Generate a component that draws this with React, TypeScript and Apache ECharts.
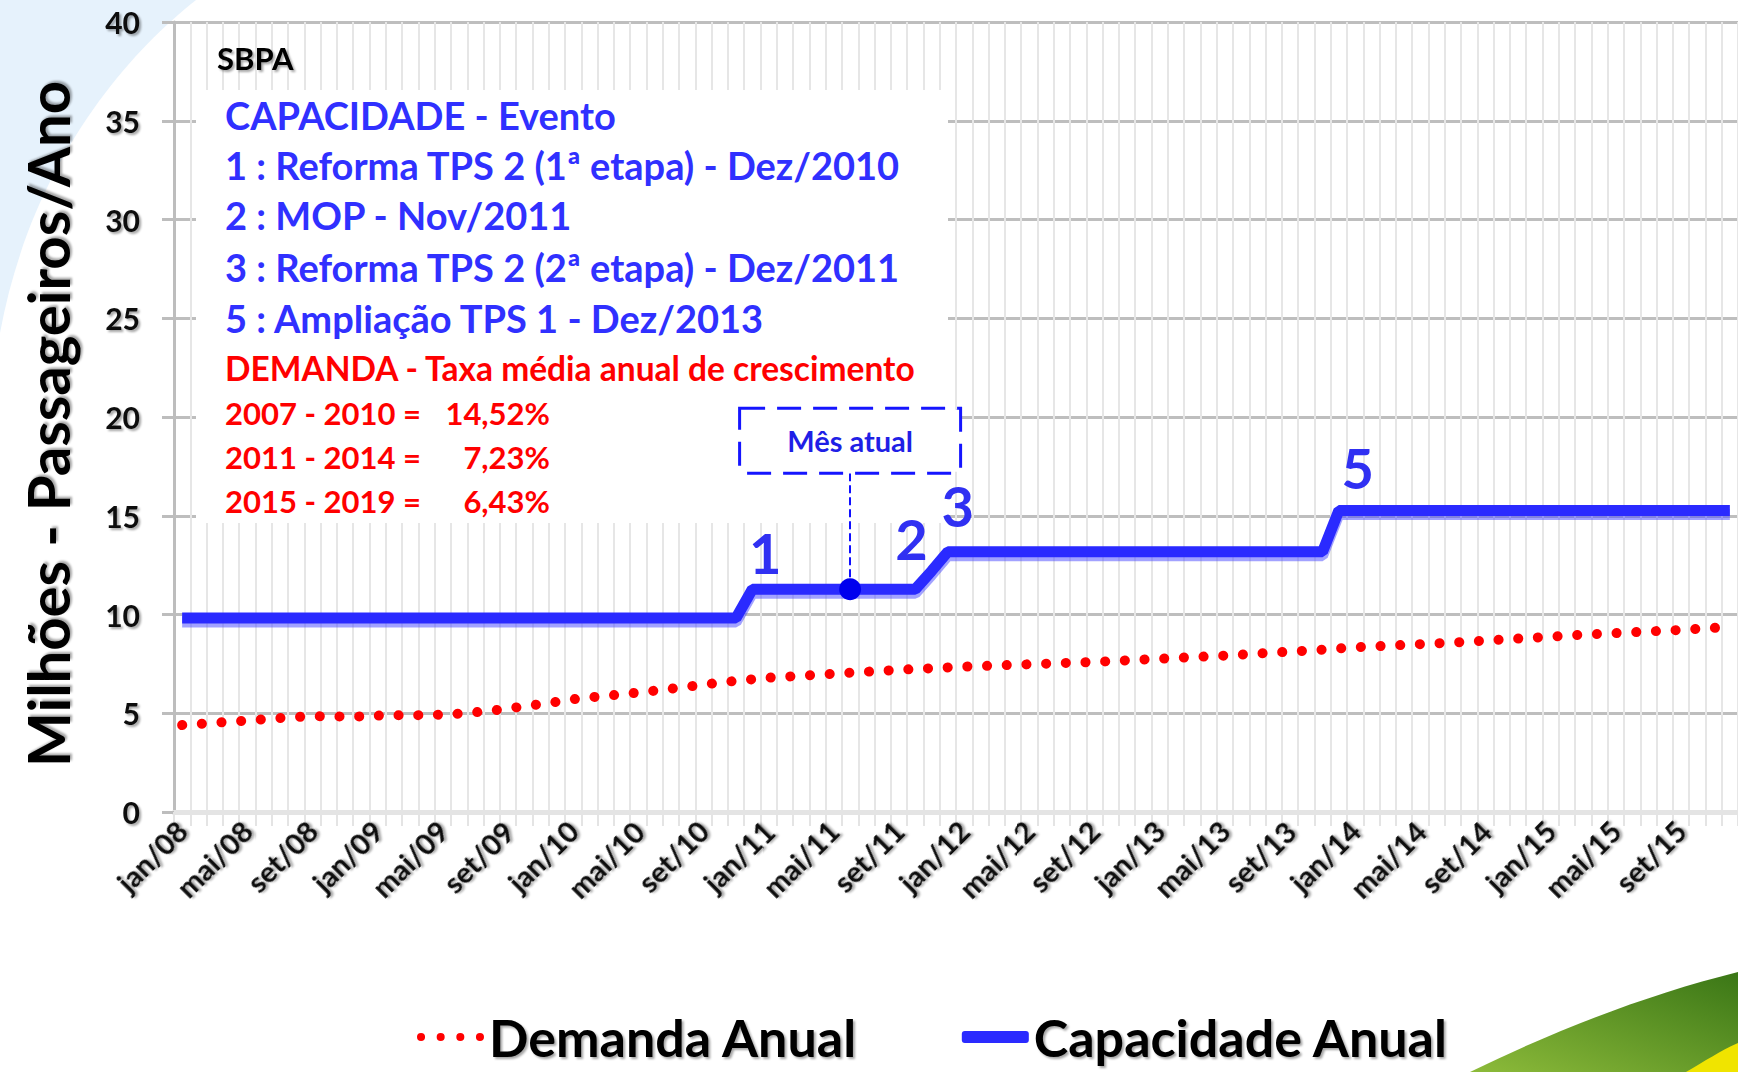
import React, { useEffect, useRef } from "react";
import * as echarts from "echarts";

const meses = ["jan", "fev", "mar", "abr", "mai", "jun", "jul", "ago", "set", "out", "nov", "dez"];
const anos = ["08", "09", "10", "11", "12", "13", "14", "15"];
const categories: string[] = anos.flatMap((a) => meses.map((m) => `${m}/${a}`));

const demanda: number[] = [
  4.40, 4.46, 4.52, 4.57, 4.63, 4.69, 4.76, 4.81, 4.85, 4.84, 4.83, 4.84,
  4.88, 4.90, 4.90, 4.91, 4.93, 4.98, 5.05, 5.13, 5.24, 5.35, 5.46, 5.58,
  5.71, 5.80, 5.88, 5.96, 6.05, 6.14, 6.24, 6.34, 6.45, 6.55, 6.64, 6.72,
  6.80, 6.85, 6.90, 6.95, 7.00, 7.05, 7.10, 7.15, 7.20, 7.24, 7.28, 7.32,
  7.36, 7.39, 7.42, 7.45, 7.48, 7.51, 7.54, 7.57, 7.60, 7.64, 7.68, 7.72,
  7.76, 7.80, 7.84, 7.88, 7.92, 7.97, 8.02, 8.07, 8.12, 8.17, 8.22, 8.28,
  8.34, 8.38, 8.42, 8.46, 8.50, 8.54, 8.58, 8.63, 8.68, 8.73, 8.78, 8.83,
  8.88, 8.93, 8.98, 9.02, 9.06, 9.10, 9.14, 9.18, 9.22, 9.27, 9.32, 9.37,
];

const capacidade: number[] = [
  9.82, 9.82, 9.82, 9.82, 9.82, 9.82, 9.82, 9.82, 9.82, 9.82, 9.82, 9.82,
  9.82, 9.82, 9.82, 9.82, 9.82, 9.82, 9.82, 9.82, 9.82, 9.82, 9.82, 9.82,
  9.82, 9.82, 9.82, 9.82, 9.82, 9.82, 9.82, 9.82, 9.82, 9.82, 9.82, 11.28,
  11.28, 11.28, 11.28, 11.28, 11.28, 11.28, 11.28, 11.28, 11.28, 11.28, 12.2, 13.18,
  13.18, 13.18, 13.18, 13.18, 13.18, 13.18, 13.18, 13.18, 13.18, 13.18, 13.18, 13.18,
  13.18, 13.18, 13.18, 13.18, 13.18, 13.18, 13.18, 13.18, 13.18, 13.18, 13.18, 15.27,
  15.27, 15.27, 15.27, 15.27, 15.27, 15.27, 15.27, 15.27, 15.27, 15.27, 15.27, 15.27,
  15.27, 15.27, 15.27, 15.27, 15.27, 15.27, 15.27, 15.27, 15.27, 15.27, 15.27, 15.27,
];

const eventoLabels = ["1", "2", "3", "5"];
const eventoMeses = ["dez/10", "nov/11", "dez/11", "dez/13"];
const mesAtual = "jun/11";

const tituloBox = "SBPA";
const capLinhas = [
  "CAPACIDADE - Evento",
  "1 : Reforma TPS 2 (1ª etapa) - Dez/2010",
  "2 : MOP - Nov/2011",
  "3 : Reforma TPS 2 (2ª etapa) - Dez/2011",
  "5 : Ampliação TPS 1 - Dez/2013",
];
const demTitulo = "DEMANDA - Taxa média anual de crescimento";
const demPeriodos = ["2007 - 2010 =", "2011 - 2014 =", "2015 - 2019 ="];
const demTaxas = ["14,52%", "7,23%", "6,43%"];

const FONT = "Lato";
const shadow = {
  textShadowColor: "rgba(0,0,0,0.35)",
  textShadowOffsetX: 2,
  textShadowOffsetY: 2,
  textShadowBlur: 2,
};
const redShadow = {
  textShadowColor: "rgba(255,80,80,0.4)",
  textShadowOffsetX: 2,
  textShadowOffsetY: 2,
};

echarts.graphic.registerShape(
  "bgBlue",
  echarts.graphic.extendPath("M0 0 L196 0 C120 60 30 170 0 333 Z", {})
);
echarts.graphic.registerShape(
  "bgGreen",
  echarts.graphic.extendPath("M1470 1072 C1560 1028 1650 994 1738 972 L1738 1072 Z", {})
);
echarts.graphic.registerShape(
  "bgYellow",
  echarts.graphic.extendPath("M1686 1072 C1705 1061 1720 1051 1738 1043 L1738 1072 Z", {})
);

const dotsIcon =
  "path://M0 4a4 4 0 1 0 8 0a4 4 0 1 0 -8 0Z" +
  "M19.5 4a4 4 0 1 0 8 0a4 4 0 1 0 -8 0Z" +
  "M39 4a4 4 0 1 0 8 0a4 4 0 1 0 -8 0Z" +
  "M58.5 4a4 4 0 1 0 8 0a4 4 0 1 0 -8 0Z";

export default function App() {
  const ref = useRef<HTMLDivElement>(null);

  useEffect(() => {
    if (!ref.current) return;
    const chart = echarts.init(ref.current, undefined, { renderer: "svg" });

    const offsets: Record<string, number[]> = {
      "1": [13, -37],
      "2": [-20, -33],
      "3": [10, -46],
      "5": [19, -43],
    };
    const numberPoints = eventoLabels.map((lab, i) => {
      const idx = categories.indexOf(eventoMeses[i]);
      return {
        coord: [eventoMeses[i], capacidade[idx]],
        symbol: "circle",
        symbolSize: 1,
        itemStyle: { color: "rgba(0,0,0,0)" },
        label: {
          show: true,
          position: "inside",
          offset: offsets[lab],
          formatter: lab,
          fontSize: 56,
          fontWeight: "bold",
          fontFamily: FONT,
          color: "#3030F2",
          textShadowColor: "rgba(60,60,255,0.45)",
          textShadowOffsetX: 2,
          textShadowOffsetY: 2,
        },
      };
    });
    const mesIdx = categories.indexOf(mesAtual);

    const blueText = capLinhas.map((t, i) => ({
      type: "text",
      z: 20,
      style: {
        text: t,
        x: 225,
        y: [115, 165, 215, 267, 318][i],
        fill: "#3030FF",
        fontSize: 38,
        fontWeight: "bold",
        fontFamily: FONT,
        verticalAlign: "middle",
        textShadowColor: "rgba(60,60,255,0.35)",
        textShadowOffsetX: 2,
        textShadowOffsetY: 2,
      },
    }));
    const redRows: any[] = [];
    demPeriodos.forEach((p, i) => {
      const y = [413, 457, 501][i];
      redRows.push({
        type: "text",
        z: 20,
        style: {
          text: p, x: 225, y, fill: "#FF0000", fontSize: 31, fontWeight: "bold",
          fontFamily: FONT, verticalAlign: "middle", ...redShadow,
        },
      });
      redRows.push({
        type: "text",
        z: 20,
        style: {
          text: demTaxas[i], x: 550, y, align: "right", fill: "#FF0000", fontSize: 31,
          fontWeight: "bold", fontFamily: FONT, verticalAlign: "middle", ...redShadow,
        },
      });
    });

    const option: any = {
      animation: false,
      backgroundColor: "#FFFFFF",
      grid: { left: 174, top: 22, width: 1571, height: 790, containLabel: false },
      legend: {
        top: 1006,
        left: 412,
        itemWidth: 67,
        itemHeight: 12,
        itemGap: 104,
        data: [
          { name: "Demanda Anual", icon: dotsIcon },
          { name: "Capacidade Anual", icon: "roundRect" },
        ],
        textStyle: {
          fontSize: 52, lineHeight: 52, fontWeight: "bold", fontFamily: FONT, color: "#000",
          ...shadow,
        },
      },
      xAxis: {
        type: "category",
        data: categories,
        boundaryGap: true,
        axisLine: { show: true, lineStyle: { color: "#E4E4E4", width: 5 } },
        axisTick: { show: true, interval: 0, length: 14, lineStyle: { color: "#E4E4E4", width: 2 } },
        splitLine: { show: true, interval: 0, lineStyle: { color: "#E6E6E6", width: 2 } },
        axisLabel: {
          interval: 3,
          rotate: 45,
          margin: 14,
          fontSize: 29,
          fontWeight: "bold",
          fontFamily: FONT,
          color: "#111",
          ...shadow,
        },
      },
      yAxis: {
        type: "value",
        min: 0,
        max: 40,
        interval: 5,
        name: "Milhões - Passageiros/Ano",
        nameLocation: "middle",
        nameRotate: 90,
        nameGap: 98,
        nameTextStyle: {
          fontSize: 58, fontWeight: "bold", fontFamily: FONT, color: "#000",
          padding: [0, 14, 0, 0],
          ...shadow,
        },
        axisLine: { show: true, lineStyle: { color: "#BDBDBD", width: 3 } },
        axisTick: { show: true, length: 12, lineStyle: { color: "#BDBDBD", width: 3 } },
        splitLine: { show: true, lineStyle: { color: "#BEBEBE", width: 3 } },
        axisLabel: {
          margin: 34,
          fontSize: 30,
          fontWeight: "bold",
          fontFamily: FONT,
          color: "#111",
          ...shadow,
        },
      },
      series: [
        {
          name: "Demanda Anual",
          type: "line",
          data: demanda,
          symbol: "none",
          z: 3,
          itemStyle: { color: "#FF0000" },
          lineStyle: { color: "#FF0000", width: 10, type: [0.1, 19.6], cap: "round" },
        },
        {
          name: "Capacidade Anual",
          type: "line",
          data: capacidade,
          symbol: "none",
          z: 4,
          itemStyle: { color: "#2A2AFF" },
          lineStyle: {
            color: "#2A2AFF",
            width: 11,
            shadowColor: "rgba(70,70,255,0.5)",
            shadowOffsetY: 4,
            shadowBlur: 0,
          },
          markLine: {
            silent: true,
            z: 30,
            symbol: "none",
            label: { show: false },
            lineStyle: { type: "dashed", color: "#1010FF", width: 2 },
            data: [[{ coord: [mesAtual, capacidade[mesIdx]] }, { coord: [mesAtual, 17.14] }]],
          },
          markPoint: {
            silent: true,
            z: 30,
            data: [
              {
                coord: [mesAtual, capacidade[mesIdx]],
                symbol: "circle",
                symbolSize: 22,
                itemStyle: { color: "#0000EE" },
                label: { show: false },
              },
              {
                coord: [mesAtual, 18.8],
                symbol: "circle",
                symbolSize: 1,
                itemStyle: { color: "rgba(0,0,0,0)" },
                label: {
                  show: true,
                  position: "inside",
                  formatter: "Mês atual",
                  fontSize: 29,
                  fontWeight: "bold",
                  fontFamily: FONT,
                  color: "#1F1FE6",
                  backgroundColor: "#FFFFFF",
                  borderColor: "#1515FF",
                  borderWidth: 3,
                  borderType: "dashed",
                  width: 218,
                  height: 62,
                  lineHeight: 62,
                  align: "center",
                  verticalAlign: "middle",
                  padding: 0,
                },
              },
              ...numberPoints,
            ],
          },
        },
      ],
      graphic: [
        { type: "bgBlue", x: 0, y: 0, z: -10, silent: true, style: { fill: "#E6F2FC" } },
        {
          type: "bgGreen", x: 0, y: 0, z: -10, silent: true,
          style: {
            fill: {
              type: "linear", x: 0, y: 1, x2: 1, y2: 0,
              colorStops: [
                { offset: 0, color: "#8DBB3A" },
                { offset: 1, color: "#3A7616" },
              ],
            },
          },
        },
        { type: "bgYellow", x: 0, y: 0, z: -9, silent: true, style: { fill: "#F0E400" } },
        {
          type: "rect", z: 15, silent: true,
          shape: { x: 196, y: 90, width: 752, height: 433 },
          style: { fill: "#FFFFFF" },
        },
        {
          type: "text", z: 20,
          style: {
            text: tituloBox, x: 217, y: 58, fill: "#000", fontSize: 31, fontWeight: "bold",
            fontFamily: FONT, verticalAlign: "middle", ...shadow,
          },
        },
        ...blueText,
        {
          type: "text", z: 20,
          style: {
            text: demTitulo, x: 225, y: 368, fill: "#FF0000", fontSize: 33.5, fontWeight: "bold",
            fontFamily: FONT, verticalAlign: "middle", ...redShadow,
          },
        },
        ...redRows,
      ],
    };

    chart.setOption(option);
    return () => chart.dispose();
  }, []);

  return (
    <div
      ref={ref}
      style={{ position: "fixed", left: 0, top: 0, width: 1738, height: 1072 }}
    />
  );
}
